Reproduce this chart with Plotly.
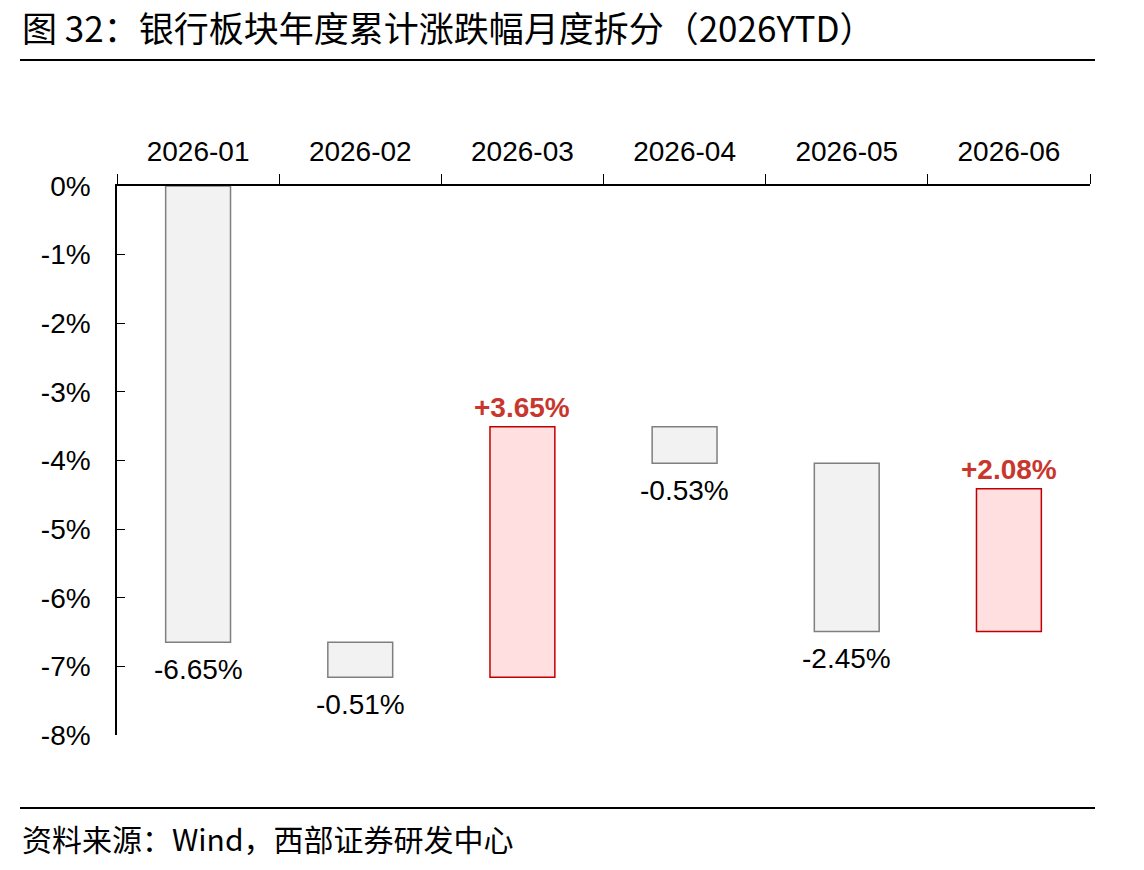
import plotly.graph_objects as go
import numpy as np

months = ["2026-01", "2026-02", "2026-03", "2026-04", "2026-05", "2026-06"]
changes = [-6.65, -0.51, 3.65, -0.53, -2.45, 2.08]
ytick_vals = [0, -1, -2, -3, -4, -5, -6, -7, -8]
ytick_text = ["0%", "-1%", "-2%", "-3%", "-4%", "-5%", "-6%", "-7%", "-8%"]
title_text = "图 32：银行板块年度累计涨跌幅月度拆分（2026YTD）"
source_text = "资料来源：Wind，西部证券研发中心"

W, H = 1144, 870
L, R, T, B = 117, 1090, 186, 735

ch = np.array(changes)
ends = np.cumsum(ch)
bases = ends - ch

gray_fill, gray_line = "#f2f2f2", "#7f7f7f"
red_fill, red_line = "#ffdfe0", "#c00000"
red_text = "#c8372d"

fills = [red_fill if c > 0 else gray_fill for c in changes]
lines = [red_line if c > 0 else gray_line for c in changes]

fig = go.Figure()
fig.add_trace(go.Bar(
    x=months, y=changes, base=bases,
    width=0.4,
    marker=dict(color=fills, line=dict(color=lines, width=1.5)),
    hoverinfo="skip",
))

font_lat = "Liberation Sans, Arial, Noto Sans CJK SC"
for m, c, b, e in zip(months, changes, bases, ends):
    if c > 0:
        fig.add_annotation(x=m, y=e, text=f"<b>+{c:.2f}%</b>", showarrow=False,
                           yanchor="bottom", yshift=2,
                           font=dict(family=font_lat, size=28, color=red_text))
    else:
        fig.add_annotation(x=m, y=e, text=f"{c:.2f}%", showarrow=False,
                           yanchor="top", yshift=-10,
                           font=dict(family=font_lat, size=28, color="#000000"))

pw, ph = R - L, B - T
def px(x):
    return (x - L) / pw
def py(y):
    return (B - y) / ph

for yy in (60, 808):
    fig.add_shape(type="line", xref="paper", yref="paper",
                  x0=px(20), x1=px(1095), y0=py(yy), y1=py(yy),
                  line=dict(color="#000000", width=2))

fig.add_annotation(xref="paper", yref="paper", x=px(20), y=py(27),
                   xanchor="left", yanchor="middle", showarrow=False,
                   text=title_text,
                   font=dict(family="Noto Sans CJK SC", size=35, color="#000000"))
fig.add_annotation(xref="paper", yref="paper", x=px(20), y=py(838),
                   xanchor="left", yanchor="middle", showarrow=False,
                   text=source_text,
                   font=dict(family="Noto Sans CJK SC", size=30, color="#000000"))

fig.update_layout(
    width=W, height=H,
    margin=dict(l=L, r=W - R, t=T, b=H - B, pad=0),
    plot_bgcolor="white", paper_bgcolor="white",
    showlegend=False,
    font=dict(family=font_lat, size=28, color="#000000"),
    xaxis=dict(type="category", side="top", showline=True, linecolor="#000000", linewidth=1.5,
               ticks="outside", tickson="boundaries", ticklen=10, tickcolor="#000000",
               tickfont=dict(size=28), ticklabelstandoff=12, showgrid=False, zeroline=False,
               fixedrange=True),
    yaxis=dict(range=[-8, 0], tickvals=ytick_vals, ticktext=ytick_text,
               showline=True, linecolor="#000000", linewidth=1.5,
               ticks="inside", ticklen=8, tickcolor="#000000",
               tickfont=dict(size=28), ticklabelstandoff=19,
               showgrid=False, zeroline=False, fixedrange=True),
)

fig.write_html("out.html")
